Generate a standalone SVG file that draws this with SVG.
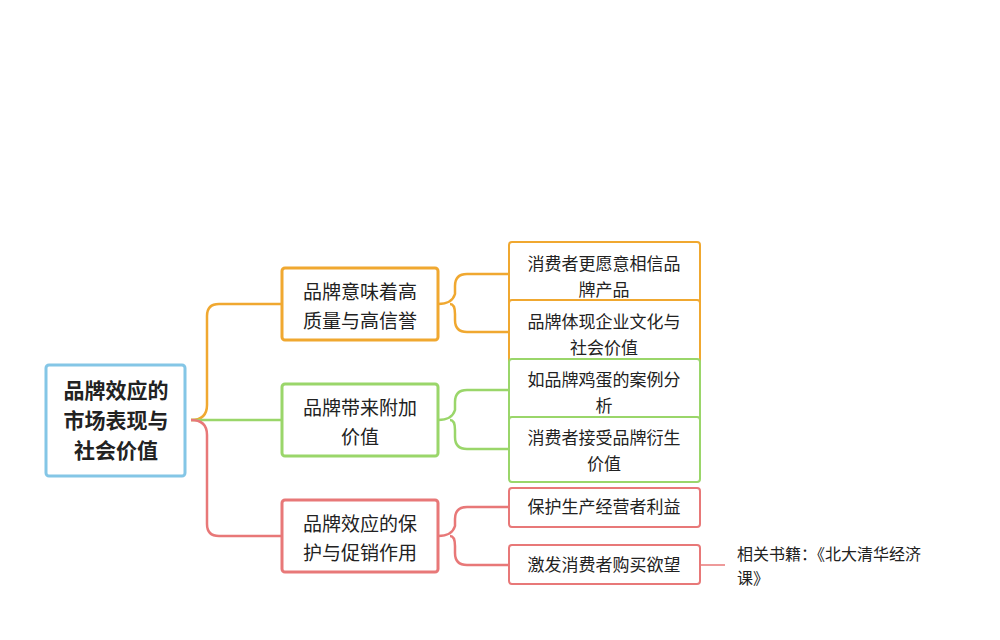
<svg xmlns="http://www.w3.org/2000/svg" width="1000" height="640" viewBox="0 0 1000 640">
<style>
text{font-family:"Liberation Serif","Noto Sans CJK SC",serif;fill:#222;text-anchor:middle}
.r{font-size:21px;font-weight:bold}
.b{font-size:19px}
.l{font-size:17px}
.n{font-size:16px;text-anchor:start}
rect{fill:#fff;stroke-width:3}
.o{stroke:#f0a830}.g{stroke:#9ad66a}.d{stroke:#e87878}.u{stroke:#84c6e6}
path{fill:none;stroke-width:2.5}
</style>
<rect width="1000" height="640" fill="#fff" stroke="none"/>
<g id="connectors">
<path class="o" d="M191 420 Q207 420 207 405 V316 Q207 304 219 304 H282"/>
<path class="g" d="M191 420 H282"/>
<path class="d" d="M191 420 Q207 420 207 435 V524 Q207 536 219 536 H282"/>
<path class="o" d="M438 304 Q452 304 455 294 V286 Q455 274 467 274 H509 M455 314 V320 Q455 332 467 332 H509 M450 304 Q455 304 455 314"/>
<path class="g" d="M438 420 Q452 420 455 410 V402 Q455 390 467 390 H509 M455 430 V437 Q455 449 467 449 H509 M450 420 Q455 420 455 430"/>
<path class="d" d="M438 536 Q452 536 455 526 V519 Q455 507 467 507 H509 M455 546 V553 Q455 565 467 565 H509 M450 536 Q455 536 455 546"/>
<path class="d" d="M700 565 H725" style="stroke-width:1.5"/>
</g>
<g id="root"><rect class="u" x="46" y="365" width="139" height="111" rx="3"/>
<text class="r" x="116" y="398">品牌效应的</text><text class="r" x="116" y="428">市场表现与</text><text class="r" x="116" y="458">社会价值</text></g>
<g id="b1"><rect class="o" x="282" y="268" width="156" height="72" rx="3"/>
<text class="b" x="360" y="299">品牌意味着高</text><text class="b" x="360" y="328">质量与高信誉</text></g>
<g id="b2"><rect class="g" x="282" y="384" width="156" height="72" rx="3"/>
<text class="b" x="360" y="415">品牌带来附加</text><text class="b" x="360" y="444">价值</text></g>
<g id="b3"><rect class="d" x="282" y="500" width="156" height="72" rx="3"/>
<text class="b" x="360" y="531">品牌效应的保</text><text class="b" x="360" y="560">护与促销作用</text></g>
<g id="l1"><rect class="o" x="509" y="242" width="191" height="64" rx="3" style="stroke-width:2"/>
<text class="l" x="604" y="270">消费者更愿意相信品</text><text class="l" x="604" y="296">牌产品</text></g>
<g id="l2"><rect class="o" x="509" y="300" width="191" height="64" rx="3" style="stroke-width:2"/>
<text class="l" x="604" y="328">品牌体现企业文化与</text><text class="l" x="604" y="354">社会价值</text></g>
<g id="l3"><rect class="g" x="509" y="359" width="191" height="63" rx="3" style="stroke-width:2"/>
<text class="l" x="604" y="386">如品牌鸡蛋的案例分</text><text class="l" x="604" y="412">析</text></g>
<g id="l4"><rect class="g" x="509" y="417" width="191" height="65" rx="3" style="stroke-width:2"/>
<text class="l" x="604" y="444">消费者接受品牌衍生</text><text class="l" x="604" y="470">价值</text></g>
<g id="l5"><rect class="d" x="509" y="488" width="191" height="39" rx="3" style="stroke-width:2"/>
<text class="l" x="604" y="513">保护生产经营者利益</text></g>
<g id="l6"><rect class="d" x="509" y="545" width="191" height="39" rx="3" style="stroke-width:2"/>
<text class="l" x="604" y="571">激发消费者购买欲望</text></g>
<g id="note"><text class="n" x="737" y="560">相关书籍：《北大清华经济</text><text class="n" x="737" y="584">课》</text></g>
</svg>
